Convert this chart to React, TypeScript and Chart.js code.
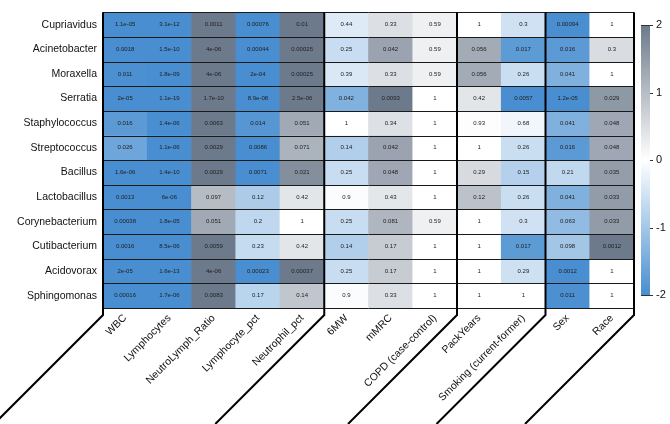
import React, { useEffect, useRef } from "react";
import { Chart, registerables } from "chart.js";

Chart.register(...registerables);

const FONT = '"Liberation Sans", Arial, Helvetica, sans-serif';

const rowLabels = [
  "Cupriavidus",
  "Acinetobacter",
  "Moraxella",
  "Serratia",
  "Staphylococcus",
  "Streptococcus",
  "Bacillus",
  "Lactobacillus",
  "Corynebacterium",
  "Cutibacterium",
  "Acidovorax",
  "Sphingomonas",
];

const colLabels = [
  "WBC",
  "Lymphocytes",
  "NeutroLymph_Ratio",
  "Lymphocyte_pct",
  "Neutrophil_pct",
  "6MW",
  "mMRC",
  "COPD (case-control)",
  "PackYears",
  "Smoking (current-former)",
  "Sex",
  "Race",
];

// direction of association per column (-1 = blue, +1 = gray)
const directions = [-1, -1, 1, -1, 1, -1, 1, 1, 1, -1, -1, 1];

// column group boundaries (index of first column of each group, plus end)
const groupBreaks = [0, 5, 8, 10, 12];

// p-values as printed in each cell (rows in rowLabels order)
const pValues: string[][] = [
  ["1.1e-05", "3.1e-12", "0.0011", "0.00076", "0.01", "0.44", "0.33", "0.59", "1", "0.3", "0.00094", "1"],
  ["0.0018", "1.5e-10", "4e-06", "0.00044", "0.00025", "0.25", "0.042", "0.59", "0.056", "0.017", "0.016", "0.3"],
  ["0.011", "1.8e-09", "4e-06", "2e-04", "0.00025", "0.39", "0.33", "0.59", "0.056", "0.26", "0.041", "1"],
  ["2e-05", "1.1e-19", "1.7e-10", "8.9e-08", "2.5e-06", "0.042", "0.0093", "1", "0.42", "0.0057", "1.2e-05", "0.029"],
  ["0.016", "1.4e-06", "0.0063", "0.014", "0.051", "1", "0.34", "1", "0.93", "0.68", "0.041", "0.048"],
  ["0.026", "1.1e-06", "0.0029", "0.0086", "0.071", "0.14", "0.042", "1", "1", "0.26", "0.016", "0.048"],
  ["1.6e-06", "1.4e-10", "0.0029", "0.0071", "0.021", "0.25", "0.048", "1", "0.29", "0.15", "0.21", "0.035"],
  ["0.0013", "6e-06", "0.097", "0.12", "0.42", "0.9", "0.43", "1", "0.12", "0.26", "0.041", "0.033"],
  ["0.00038", "1.8e-05", "0.051", "0.2", "1", "0.25", "0.081", "0.59", "1", "0.3", "0.063", "0.033"],
  ["0.0016", "8.5e-06", "0.0059", "0.23", "0.42", "0.14", "0.17", "1", "1", "0.017", "0.098", "0.0012"],
  ["2e-05", "1.6e-13", "4e-06", "0.00023", "0.00037", "0.25", "0.17", "1", "1", "0.29", "0.0012", "1"],
  ["0.00016", "1.7e-06", "0.0083", "0.17", "0.14", "0.9", "0.33", "1", "1", "1", "0.011", "1"],
];

const legendTicks = [2, 1, 0, -1, -2];
const legendMax = 2;

const BLUE = [72, 142, 208];
const GRAY = [108, 122, 139];

function mix(end: number[], t: number) {
  const c = end.map((e) => Math.round(255 + (e - 255) * t));
  return `rgb(${c[0]},${c[1]},${c[2]})`;
}

function cellColor(p: string, dir: number) {
  const v = dir * Math.min(legendMax, -Math.log10(parseFloat(p)));
  const t = Math.min(1, Math.abs(v) / legendMax);
  return mix(v < 0 ? BLUE : GRAY, t);
}

const heatPlugin = {
  id: "heatDecor",
  afterDatasetsDraw(chart: any) {
    const ctx = chart.ctx;
    ctx.save();
    ctx.font = `6px ${FONT}`;
    ctx.fillStyle = "#222";
    ctx.textAlign = "center";
    ctx.textBaseline = "middle";
    chart.data.datasets.forEach((_: any, i: number) => {
      const meta = chart.getDatasetMeta(i);
      meta.data.forEach((el: any, j: number) => {
        const c = el.getCenterPoint();
        ctx.fillText(pValues[i][j], c.x, c.y);
      });
    });
    ctx.restore();
  },
  afterDraw(chart: any) {
    const ctx = chart.ctx;
    const xs = chart.scales.x;
    const ys = chart.scales.y;
    const { left, right, top, bottom } = chart.chartArea;
    const H = chart.height;
    ctx.save();
    // row separators
    ctx.strokeStyle = "#1a1a1a";
    ctx.lineWidth = 1;
    for (let k = 0; k <= rowLabels.length; k++) {
      const y = Math.round(ys.getPixelForValue(k)) + 0.5;
      ctx.beginPath();
      ctx.moveTo(left, y);
      ctx.lineTo(right, y);
      ctx.stroke();
    }
    // group separators + diagonal leader lines
    ctx.strokeStyle = "#000";
    ctx.lineWidth = 2;
    const stub = 7;
    groupBreaks.forEach((b) => {
      const x = xs.getPixelForValue(b - 0.5);
      const y1 = bottom + stub;
      ctx.beginPath();
      ctx.moveTo(x, top);
      ctx.lineTo(x, y1);
      ctx.lineTo(x - (H - y1), H);
      ctx.stroke();
    });
    // color legend
    const bw = 9;
    const bx = right + 7;
    const bh = 270;
    const by = (top + bottom) / 2 - bh / 2;
    const vy = (v: number) => by + ((legendMax - v) / (2 * legendMax)) * bh;
    const g = ctx.createLinearGradient(0, by, 0, by + bh);
    g.addColorStop(0, mix(GRAY, 1));
    g.addColorStop(0.25, mix(GRAY, 0.5));
    g.addColorStop(0.5, mix(GRAY, 0));
    g.addColorStop(0.75, mix(BLUE, 0.5));
    g.addColorStop(1, mix(BLUE, 1));
    ctx.fillStyle = g;
    ctx.fillRect(bx, by, bw, bh);
    ctx.strokeStyle = "#333";
    ctx.lineWidth = 1;
    ctx.font = `11px ${FONT}`;
    ctx.fillStyle = "#111";
    ctx.textAlign = "left";
    ctx.textBaseline = "middle";
    legendTicks.forEach((v) => {
      const y = Math.round(vy(v)) + 0.5;
      const edge = Math.abs(v) === legendMax;
      ctx.beginPath();
      ctx.moveTo(edge ? bx : bx + bw, y);
      ctx.lineTo(bx + bw + 3, y);
      ctx.stroke();
      ctx.fillText(String(v), bx + bw + 6, vy(v));
    });
    ctx.restore();
  },
};

export default function App() {
  const ref = useRef<HTMLCanvasElement | null>(null);
  useEffect(() => {
    if (!ref.current) return;
    const chart = new Chart(ref.current, {
      type: "bar",
      data: {
        labels: colLabels,
        datasets: rowLabels.map((name, i) => ({
          label: name,
          data: colLabels.map(() => 1),
          backgroundColor: pValues[i].map((p, j) => cellColor(p, directions[j])),
          borderWidth: 0,
          barPercentage: 1,
          categoryPercentage: 1,
        })),
      },
      options: {
        responsive: false,
        animation: false,
        devicePixelRatio: 1,
        layout: { padding: { left: 0, right: 36, top: 1, bottom: 0 } },
        plugins: { legend: { display: false }, tooltip: { enabled: false } },
        scales: {
          x: {
            type: "category",
            stacked: true,
            offset: true,
            grid: { display: false, drawTicks: false },
            border: { display: false },
            ticks: {
              autoSkip: false,
              maxRotation: 45,
              minRotation: 45,
              padding: 4,
              color: "#111",
              font: { family: FONT, size: 10.5 },
            },
            afterFit: (s: any) => {
              s.height = 116;
            },
          },
          y: {
            type: "linear",
            stacked: true,
            min: 0,
            max: rowLabels.length,
            reverse: true,
            grid: { display: false, drawTicks: false },
            border: { display: false },
            afterBuildTicks: (s: any) => {
              s.ticks = rowLabels.map((_, i) => ({ value: i + 0.5 }));
            },
            ticks: {
              autoSkip: false,
              padding: 6,
              color: "#111",
              font: { family: FONT, size: 10.5 },
              callback: (v: any) => rowLabels[Math.floor(Number(v))],
            },
            afterFit: (s: any) => {
              s.width = 103;
            },
          },
        },
      } as any,
      plugins: [heatPlugin],
    });
    return () => chart.destroy();
  }, []);
  return (
    <div style={{ position: "absolute", left: 0, top: 0, width: 670, height: 424, background: "#fff" }}>
      <canvas ref={ref} width={670} height={424} />
    </div>
  );
}
